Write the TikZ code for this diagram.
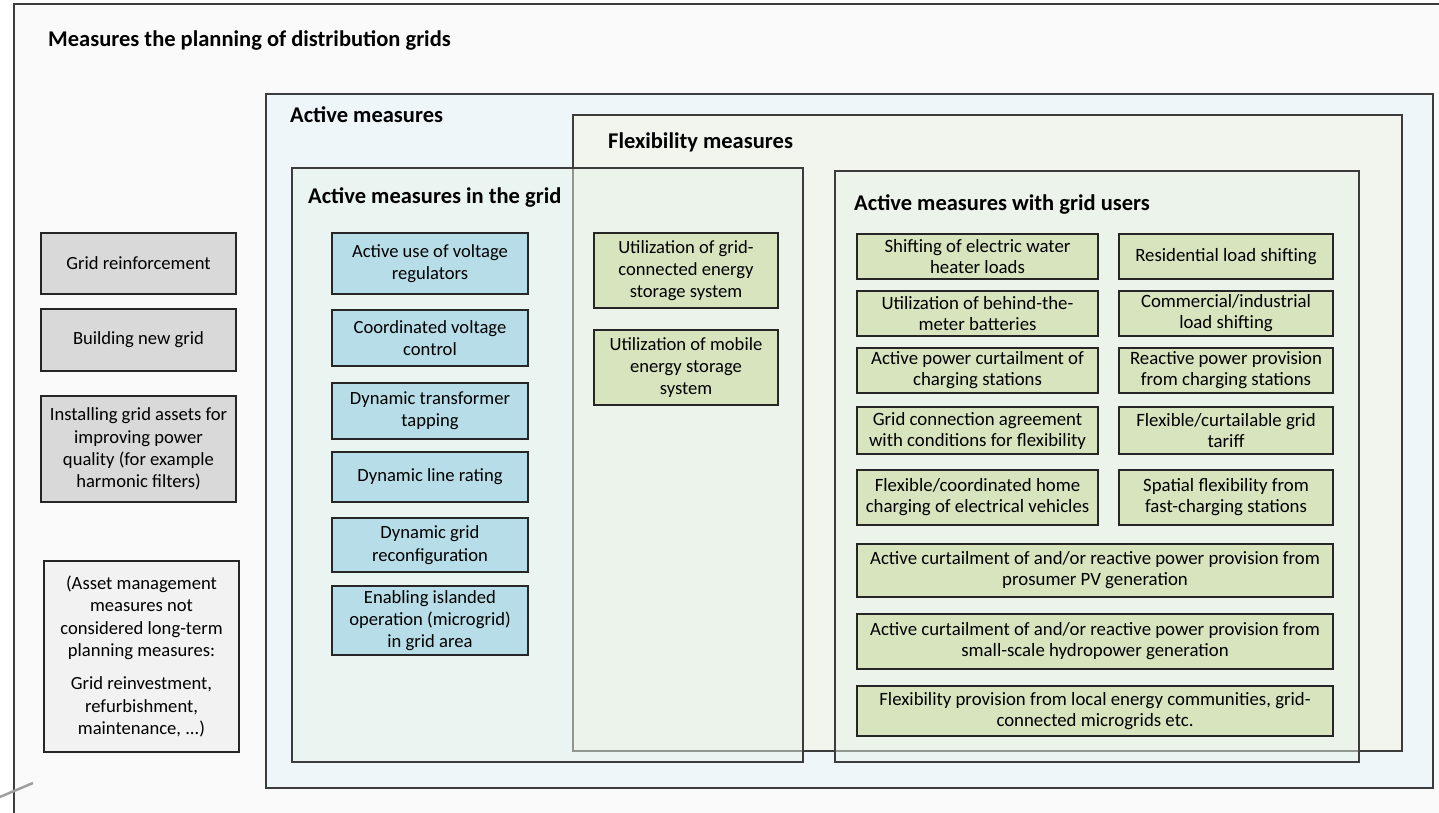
\documentclass[tikz,border=0pt]{standalone}
\usepackage{fontspec}
\setmainfont{Carlito}
\usepackage{tikz}
\usetikzlibrary{positioning}
\definecolor{framecol}{RGB}{60,60,60}
\definecolor{pagebg}{RGB}{250,250,250}
\definecolor{activebg}{RGB}{238,246,250}
\definecolor{flexbg}{RGB}{241,245,238}
\definecolor{innerbg}{RGB}{232,243,232}
\definecolor{gridblue}{RGB}{183,222,232}
\definecolor{flexgreen}{RGB}{215,228,189}
\definecolor{reinfgray}{RGB}{217,217,217}
\definecolor{notegray}{RGB}{242,242,242}
\tikzset{
  frameln/.style={draw=framecol, line width=1.5pt},
  innerln/.style={draw=framecol, line width=1.5pt, fill=innerbg, fill opacity=0.5},
  titletxt/.style={anchor=west, inner sep=0pt, font=\bfseries\fontsize{22.5}{26}\selectfont},
  mbox/.style={draw=black!85, line width=1.2pt, align=center, inner sep=1pt,
    font=\fontsize{18.6}{22.3}\selectfont},
  greybox/.style={mbox, fill=reinfgray, minimum width=195pt},
  notebox/.style={mbox, fill=notegray, minimum width=195pt},
  bluebox/.style={mbox, fill=gridblue, minimum width=196pt},
  flexbox/.style={mbox, fill=flexgreen, minimum width=184pt},
  userbox/.style={mbox, fill=flexgreen, font=\fontsize{18.8}{21}\selectfont},
  userleft/.style={userbox, minimum width=241pt},
  userright/.style={userbox, minimum width=214pt},
  userwide/.style={userbox, minimum width=476pt},
}

\begin{document}
\begin{tikzpicture}[x=1pt, y=-1pt]
  \clip (0,0) rectangle (1439,812);
  % outer frame (runs past the page on the right and bottom)
  \draw[frameln, fill=pagebg] (14,4) rectangle (1460,830);
  \draw[gray!75, line width=2.5pt] (-5,799) -- (33,783);
  \node[titletxt] (mtitle) at (48,40) {Measures the planning of distribution grids};

  % containers -- the two inner ones are see-through so the flexibility edge shows
  \draw[frameln, fill=activebg] (266,94) rectangle (1433,788);
  \draw[frameln, fill=flexbg] (573,115) rectangle (1402,751);
  \draw[innerln] (292,168) rectangle (803,762);
  \draw[innerln] (835,171) rectangle (1359,762);
  \node[titletxt] (atitle) at (290,115) {Active measures};
  \node[titletxt] (ftitle) at (608,142) {Flexibility measures};
  \node[titletxt] (gtitle) at (308,197) {Active measures in the grid};
  \node[titletxt] (utitle) at (854,204) {Active measures with grid users};

  % conventional measures, left column
  \node[greybox, minimum height=61pt] (reinf) at (138.5,263.5) {Grid reinforcement};
  \node[greybox, minimum height=62pt] (newgrid) at (138.5,340) {Building new grid};
  \node[greybox, minimum height=106pt] (assets) at (138.5,449)
    {Installing grid assets for\\improving power\\quality (for example\\harmonic filters)};
  \node[notebox, minimum height=191pt] (assetmgmt) at (141.5,656.5)
    {(Asset management\\measures not\\considered long-term\\planning measures:\\[11pt]
     Grid reinvestment,\\refurbishment,\\maintenance, ...)};

  % active measures in the grid
  \node[bluebox, minimum height=61pt] (volreg) at (430,263.5) {Active use of voltage\\regulators};
  \node[bluebox, minimum height=56pt] (coordvol) at (430,338) {Coordinated voltage\\control};
  \node[bluebox, minimum height=56pt] (tapping) at (430,411) {Dynamic transformer\\tapping};
  \node[bluebox, minimum height=50pt] (linerat) at (430,477) {Dynamic line rating};
  \node[bluebox, minimum height=54pt] (reconf) at (430,545) {Dynamic grid\\reconfiguration};
  \node[bluebox, minimum height=69pt] (island) at (430,620.5)
    {Enabling islanded\\operation (microgrid)\\in grid area};

  % storage in the flexibility part
  \node[flexbox, minimum height=75pt] (gridstor) at (686,270.5)
    {Utilization of grid-\\connected energy\\storage system};
  \node[flexbox, minimum height=75pt] (mobstor) at (686,367.5)
    {Utilization of mobile\\energy storage\\system};

  % active measures with grid users
  \node[userleft, minimum height=45pt] (waterheat) at (977.5,256.5) {Shifting of electric water\\heater loads};
  \node[userright, minimum height=45pt] (resload) at (1226,256.5) {Residential load shifting};
  \node[userleft, minimum height=45pt] (btmbatt) at (977.5,313.5) {Utilization of behind-the-\\meter batteries};
  \node[userright, minimum height=45pt] (comload) at (1226,313.5) {Commercial/industrial\\load shifting};
  \node[userleft, minimum height=45pt] (chcurt) at (977.5,370.5) {Active power curtailment of\\charging stations};
  \node[userright, minimum height=45pt] (chreact) at (1226,370.5) {Reactive power provision\\from charging stations};
  \node[userleft, minimum height=47pt] (connagr) at (977.5,430.5) {Grid connection agreement\\with conditions for flexibility};
  \node[userright, minimum height=47pt] (tariff) at (1226,430.5) {Flexible/curtailable grid\\tariff};
  \node[userleft, minimum height=55pt] (homech) at (977.5,497.5) {Flexible/coordinated home\\charging of electrical vehicles};
  \node[userright, minimum height=55pt] (fastch) at (1226,497.5) {Spatial flexibility from\\fast-charging stations};
  \node[userwide, minimum height=53pt] (pvgen) at (1095,570.5)
    {Active curtailment of and/or reactive power provision from\\prosumer PV generation};
  \node[userwide, minimum height=55pt] (hydro) at (1095,641.5)
    {Active curtailment of and/or reactive power provision from\\small-scale hydropower generation};
  \node[userwide, minimum height=50pt] (commun) at (1095,711)
    {Flexibility provision from local energy communities, grid-\\connected microgrids etc.};
\end{tikzpicture}
\end{document}
